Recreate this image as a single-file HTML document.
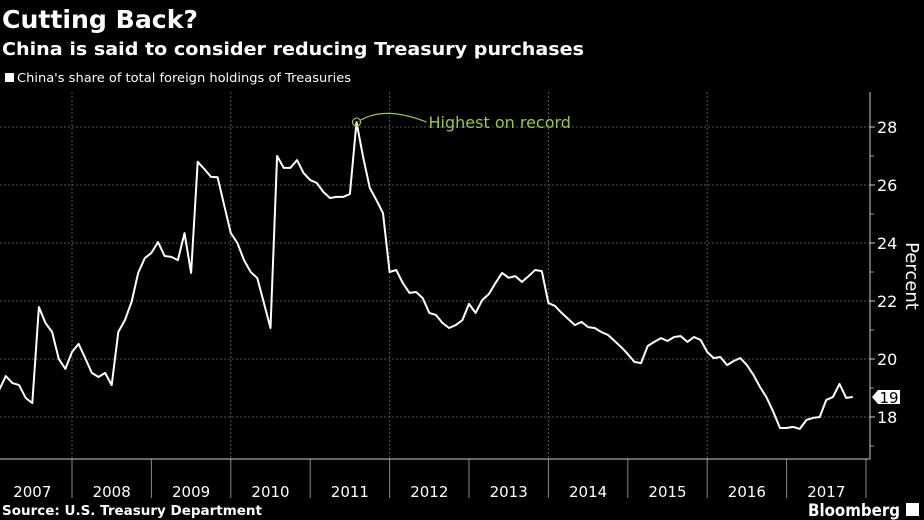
<!DOCTYPE html>
<html><head><meta charset="utf-8"><style>
html,body{margin:0;padding:0;background:#000;}
svg{display:block;}
text{font-family:"DejaVu Sans","Liberation Sans",sans-serif;}
</style></head><body>
<svg id="chart" width="924" height="520" viewBox="0 0 924 520" xmlns="http://www.w3.org/2000/svg">
<rect width="924" height="520" fill="#000"/>
<text x="2" y="28" fill="#fff" font-weight="bold" font-size="25" textLength="196" lengthAdjust="spacingAndGlyphs">Cutting Back?</text>
<text x="2" y="55" fill="#fff" font-weight="bold" font-size="18" textLength="582" lengthAdjust="spacingAndGlyphs">China is said to consider reducing Treasury purchases</text>
<rect x="5" y="73" width="9" height="9" fill="#fff"/>
<text x="17" y="82" fill="#fff" font-size="12" textLength="334" lengthAdjust="spacingAndGlyphs">China's share of total foreign holdings of Treasuries</text>
<g id="grid"></g>
<g id="axes"></g>
<path id="line" fill="none" stroke="#fff" stroke-width="2" stroke-linejoin="round"/>
<g id="annot"></g>
<text x="2" y="515" fill="#fff" font-weight="bold" font-size="13" textLength="260" lengthAdjust="spacingAndGlyphs">Source: U.S. Treasury Department</text>
<text x="808" y="516" fill="#fff" font-weight="bold" font-size="17" textLength="92" lengthAdjust="spacingAndGlyphs">Bloomberg</text>
<rect x="906" y="503" width="13" height="13" fill="#fff"/>
</svg>
<script>
const startYear = 2007;
const values = [18.93,19.41,19.17,19.1,18.66,18.48,21.79,21.24,20.93,20.0,19.66,20.24,20.52,20.03,19.52,19.38,19.52,19.1,20.93,21.34,21.97,22.97,23.48,23.66,24.03,23.55,23.52,23.41,24.34,22.97,26.8,26.55,26.28,26.27,25.3,24.34,24.0,23.41,23.0,22.79,21.93,21.07,27.0,26.59,26.59,26.86,26.41,26.17,26.07,25.76,25.55,25.59,25.59,25.69,28.17,26.97,25.9,25.48,25.03,23.0,23.07,22.62,22.28,22.31,22.1,21.59,21.52,21.24,21.07,21.17,21.34,
21.9,21.59,22.03,22.24,22.62,22.97,22.8,22.86,22.66,22.86,23.07,23.03,21.93,21.83,21.59,21.38,21.17,21.28,21.1,21.07,20.93,20.83,20.62,20.41,20.17,19.9,19.86,20.45,20.59,20.72,20.62,20.76,20.79,20.59,20.76,20.66,20.24,20.03,20.07,19.79,19.93,20.03,19.79,19.45,19.03,18.66,18.17,17.62,17.62,17.66,17.59,17.9,17.97,18.0,18.59,18.69,19.14,18.66,18.69];
const yTicks = [18,20,22,24,26,28];
const yMinor = [17,19,21,23,25,27];
const years = [2007,2008,2009,2010,2011,2012,2013,2014,2015,2016,2017];
const lastLabel = "19";
const peakLabel = "Highest on record";

const NS = "http://www.w3.org/2000/svg";
const yearW = 79.4, x2008 = 72;
function xYear(yr){ return x2008 + (yr - 2008) * yearW; }
function xIdx(i){ return xYear(startYear) + (i + 1) * yearW / 12; }
function y(v){ return 417 - (v - 18) * 29; }
const AX = 870, TOP = 92, BOT = 459;
function mk(tag, attrs, parent){ const e = document.createElementNS(NS, tag); for (const k in attrs) e.setAttribute(k, attrs[k]); parent.appendChild(e); return e; }
const grid = document.getElementById('grid'), axes = document.getElementById('axes');
yTicks.forEach(t => {
  const g = mk('line', {x1:0, x2:AX, y1:y(t), y2:y(t), stroke:'#555', 'stroke-dasharray':'2,2', 'stroke-width':1}, grid);
  
  
  const tk = mk('line', {x1:AX, x2:AX+5, y1:y(t), y2:y(t), stroke:'#ccc'}, axes);
  
  
  const lb = mk('text', {x:AX+7, y:y(t)+6, fill:'#fff', 'font-size':16}, axes);
  lb.textContent = t;
  
  
});
yMinor.forEach(t => {
  const tk = mk('line', {x1:AX, x2:AX+4, y1:y(t), y2:y(t), stroke:'#999'}, axes);
  
  
});
years.forEach(yr => {
  if ((yr % 2) === 0) {
    const g = mk('line', {x1:xYear(yr), x2:xYear(yr), y1:TOP, y2:BOT, stroke:'#555', 'stroke-dasharray':'2,2'}, grid);
    
    
  }
  const tk = mk('line', {x1:xYear(yr+1), x2:xYear(yr+1), y1:BOT, y2:498, stroke:'#888'}, axes);
  
  
  const lb = mk('text', {x:xYear(yr)+yearW/2, y:497, fill:'#fff', 'font-size':15, 'text-anchor':'middle'}, axes);
  lb.textContent = yr;
  
  
});
const xa = mk('line', {x1:0, x2:AX, y1:BOT, y2:BOT, stroke:'#ccc'}, axes);


const ya = mk('line', {x1:AX, x2:AX, y1:TOP, y2:BOT, stroke:'#ccc'}, axes);


const yt = mk('text', {x:0, y:0, fill:'#fff', 'font-size':18, 'text-anchor':'middle', transform:'translate(906,276) rotate(90)'}, axes);
yt.textContent = 'Percent';



document.getElementById('line').setAttribute('d', values.map((v,i)=>(i?'L':'M')+xIdx(i).toFixed(1)+','+y(v).toFixed(1)).join(''));

const last = values.length - 1, ly = y(values[last]);
const an = document.getElementById('annot');
const tag = mk('path', {d:`M${AX+2},${ly} L${AX+8},${ly-7} L${AX+30},${ly-7} L${AX+30},${ly+7} L${AX+8},${ly+7} Z`, fill:'#fff'}, an);


const tt = mk('text', {x:AX+19, y:ly+6, fill:'#000', 'font-size':15, 'text-anchor':'middle'}, an);
tt.textContent = lastLabel;


let pi = 0; values.forEach((v,i)=>{ if (v > values[pi]) pi = i; });
const px = xIdx(pi), py = y(values[pi]);
const c = mk('circle', {cx:px, cy:py, r:4, fill:'none', stroke:'#9cc54a', 'stroke-width':1.2}, an);


const cv = mk('path', {d:`M${px+4},${py-2} C${px+25},${py-14} ${px+50},${py-8} ${px+70},${py}`, fill:'none', stroke:'#9cc54a', 'stroke-width':1.2}, an);


const pt = mk('text', {x:px+72, y:py+6, fill:'#9cc54a', 'font-size':16}, an);
pt.textContent = peakLabel;


</script>
</body></html>
